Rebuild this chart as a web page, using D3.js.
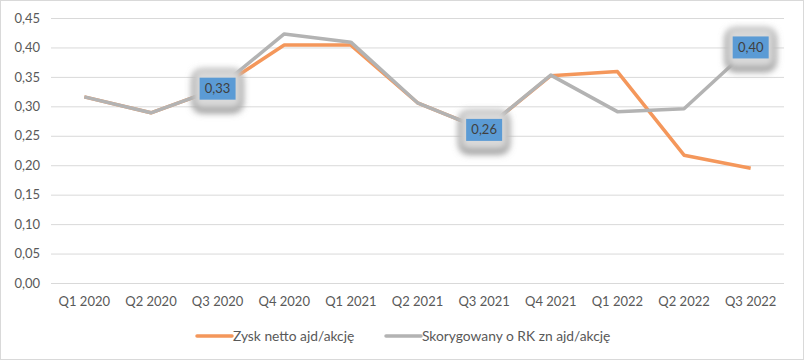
<!DOCTYPE html>
<html lang="pl">
<head>
<meta charset="UTF-8">
<title>Zysk netto</title>
<script src="https://cdn.jsdelivr.net/npm/d3@7"></script>
<style>
    body { margin: 0; background: #fff; }
    #chart text { font-family: Lato, "Open Sans", sans-serif; fill: #595959; }
</style>
</head>
<body>
<svg id="chart" width="805" height="361"></svg>
<script>
    // data
    const quarters = ["Q1 2020", "Q2 2020", "Q3 2020", "Q4 2020", "Q1 2021", "Q2 2021",
        "Q3 2021", "Q4 2021", "Q1 2022", "Q2 2022", "Q3 2022"];
    const zyskNetto = [0.316, 0.289, 0.33, 0.404, 0.404, 0.306, 0.26, 0.352, 0.359, 0.217, 0.195];
    const skorygowany = [0.316, 0.289, 0.33, 0.423, 0.409, 0.306, 0.26, 0.353, 0.291, 0.296, 0.40];
    const labelIdx = [2, 6, 10];
    const yTicks = [0, 0.05, 0.10, 0.15, 0.20, 0.25, 0.30, 0.35, 0.40, 0.45];
    const seriesNames = ["Zysk netto ajd/akcję", "Skorygowany o RK zn ajd/akcję"];
    const colors = ["#F4975B", "#B3B3B3"];

    const svg = d3.select("#chart");
    const margin = {left: 51, right: 21, top: 18, bottom: 78};
    const W = 805, H = 361;

    // outer border
    svg.append("rect").attr("x", 0.5).attr("y", 0.5).attr("width", W - 2).attr("height", H - 2)
        .attr("fill", "#fff").attr("stroke", "#D9D9D9");

    let x = d3.scaleBand().domain(quarters).range([margin.left, W - margin.right]);
    let y = d3.scaleLinear().domain([0, 0.45]).range([H - margin.bottom, margin.top]);

    let fmt = d => d.toFixed(2).replace(".", ",");

    // gridlines + y labels
    let yAxis = d3.axisLeft(y).tickValues(yTicks).tickFormat(fmt)
        .tickSize(-(W - margin.left - margin.right)).tickPadding(11);
    let gy = svg.append("g").attr("transform", `translate(${margin.left},0)`).call(yAxis);
    gy.select(".domain").remove();
    gy.selectAll("line").attr("stroke", "#D9D9D9");
    gy.selectAll("text").style("font-size", "13px");

    // x labels
    let xAxis = d3.axisBottom(x).tickSize(0).tickPadding(14);
    let gx = svg.append("g").attr("transform", `translate(0,${H - margin.bottom})`).call(xAxis);
    gx.select(".domain").remove();
    gx.selectAll("text").style("font-size", "13px");

    let cx = (d, i) => x(quarters[i]) + x.bandwidth() / 2;
    let line = d3.line().x(cx).y(d => y(d));

    [zyskNetto, skorygowany].forEach(function (s, k) {
        svg.append("path").datum(s)
            .attr("d", line)
            .attr("fill", "none")
            .attr("stroke", colors[k])
            .attr("stroke-width", 3.5)
            .attr("stroke-linejoin", "round");
    });

    // glow for data labels
    let defs = svg.append("defs");
    let f = defs.append("filter").attr("id", "glow").attr("x", "-50%").attr("y", "-50%")
        .attr("width", "200%").attr("height", "200%");
    f.append("feGaussianBlur").attr("stdDeviation", 3.5);

    let lbl = svg.selectAll(".dl").data(labelIdx).enter().append("g").attr("class", "dl")
        .attr("transform", i => `translate(${cx(0, i)},${y(skorygowany[i])})`);
    lbl.append("rect").attr("x", -25).attr("y", -18).attr("width", 50).attr("height", 42)
        .attr("rx", 9).attr("fill", "#8c8c8c").attr("filter", "url(#glow)");
    lbl.append("rect").attr("x", -24).attr("y", -20).attr("width", 48).attr("height", 40)
        .attr("rx", 8).attr("fill", "#D9D9D9").attr("filter", "url(#glow)");
    lbl.append("rect").attr("x", -18).attr("y", -11).attr("width", 36).attr("height", 22)
        .attr("fill", "#5B9BD5");
    lbl.append("text").attr("text-anchor", "middle").attr("dy", "0.35em")
        .style("font-size", "13px").style("fill", "#404040")
        .text(i => fmt(skorygowany[i]));

    // legend
    let legX = [197, 386];
    let leg = svg.selectAll(".leg").data(seriesNames).enter().append("g").attr("class", "leg")
        .attr("transform", (d, i) => `translate(${legX[i]},336)`);
    leg.append("line").attr("x1", 0).attr("x2", 35).attr("stroke", (d, i) => colors[i])
        .attr("stroke-width", 3.5).attr("stroke-linecap", "round");
    leg.append("text").attr("x", 36).attr("dy", "0.35em").style("font-size", "13.8px").text(d => d);
</script>
</body>
</html>
